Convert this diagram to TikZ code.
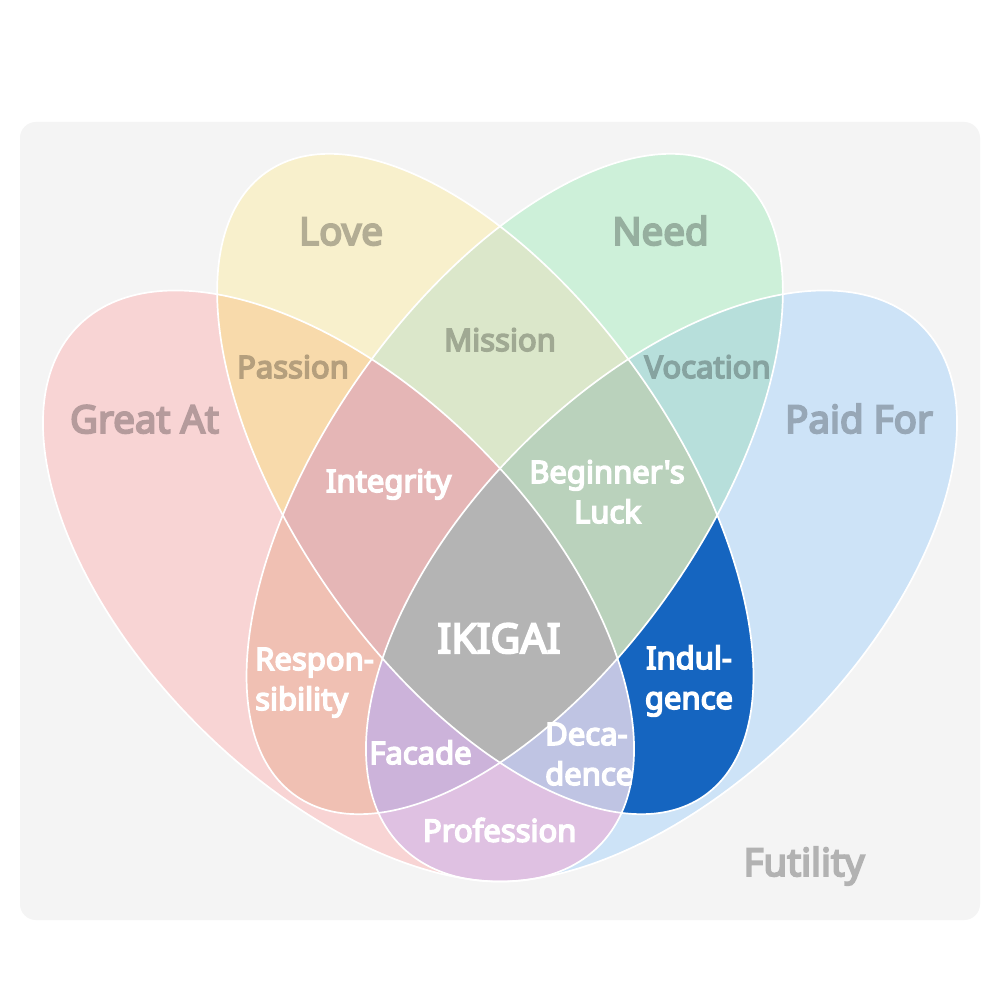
\documentclass[tikz,border=0pt]{standalone}
\usepackage{fontspec}
\newfontfamily\lblfont{Noto Sans}[FakeBold=5]
\definecolor{bgC}{HTML}{F4F4F4}
\definecolor{gaC}{HTML}{F8D4D4}
\definecolor{loC}{HTML}{F8F0CC}
\definecolor{neC}{HTML}{CDF0D9}
\definecolor{pfC}{HTML}{CDE3F7}
\definecolor{passC}{HTML}{F8DAAB}
\definecolor{missC}{HTML}{DBE7CA}
\definecolor{vocC}{HTML}{B7DFDB}
\definecolor{profC}{HTML}{DFC1E2}
\definecolor{respC}{HTML}{F0C0B3}
\definecolor{indC}{HTML}{1565C0}
\definecolor{intC}{HTML}{E5B6B6}
\definecolor{begC}{HTML}{BAD2BC}
\definecolor{facC}{HTML}{CCB3DA}
\definecolor{decC}{HTML}{BFC4E3}
\definecolor{ikC}{HTML}{B4B4B4}
% label colours (region colour darkened)
\definecolor{loT}{HTML}{B3AD94}
\definecolor{neT}{HTML}{96AF9F}
\definecolor{gaT}{HTML}{B59B9C}
\definecolor{pfT}{HTML}{97A7B6}
\definecolor{futT}{HTML}{B2B2B2}
\definecolor{passT}{HTML}{B59F7D}
\definecolor{missT}{HTML}{A0A993}
\definecolor{vocT}{HTML}{86A3A0}
\newcommand\pGA[1]{\path[#1,shift={(338.5,586)},rotate=-45] (0,0) ellipse [x radius=368pt,y radius=198pt];}
\newcommand\pPF[1]{\path[#1,shift={(661.5,586)},rotate=45] (0,0) ellipse [x radius=368pt,y radius=198pt];}
\newcommand\pLO[1]{\path[#1,shift={(485.3,484)},rotate=-54.9] (0,0) ellipse [x radius=381pt,y radius=189pt];}
\newcommand\pNE[1]{\path[#1,shift={(514.7,484)},rotate=54.9] (0,0) ellipse [x radius=381pt,y radius=189pt];}
\tikzset{
  lab/.style={font=\lblfont\fontsize{31}{34}\selectfont, inner sep=0pt, anchor=base},
  biglab/.style={lab, font=\lblfont\fontsize{38.5}{40}\selectfont},
  ikilab/.style={lab, font=\lblfont\fontsize{41}{44}\selectfont},
  wht/.style={text=white},
  outline/.style={draw=white, line width=1.7pt}
}
\begin{document}
\begin{tikzpicture}[x=1pt,y=-1pt]
\useasboundingbox (0,0) rectangle (1000,1000);
\fill[white] (0,0) rectangle (1000,1000);
\fill[bgC, rounded corners=16pt] (20,122) rectangle (980,920);
% single sets
\pGA{fill=gaC}
\pPF{fill=pfC}
\pLO{fill=loC}
\pNE{fill=neC}
% pairs
\begin{scope}\pLO{clip}\pGA{fill=passC}\end{scope}
\begin{scope}\pLO{clip}\pNE{fill=missC}\end{scope}
\begin{scope}\pNE{clip}\pPF{fill=vocC}\end{scope}
\begin{scope}\pGA{clip}\pPF{fill=profC}\end{scope}
\begin{scope}\pNE{clip}\pGA{fill=respC}\end{scope}
\begin{scope}\pLO{clip}\pPF{fill=indC}\end{scope}
% triples
\begin{scope}\pLO{clip}\pNE{clip}\pGA{fill=intC}\end{scope}
\begin{scope}\pLO{clip}\pNE{clip}\pPF{fill=begC}\end{scope}
\begin{scope}\pNE{clip}\pGA{clip}\pPF{fill=facC}\end{scope}
\begin{scope}\pLO{clip}\pGA{clip}\pPF{fill=decC}\end{scope}
% all four
\begin{scope}\pLO{clip}\pNE{clip}\pGA{clip}\pPF{fill=ikC}\end{scope}
% outlines
\pGA{outline}
\pPF{outline}
\pLO{outline}
\pNE{outline}
% labels
\node[biglab,text=loT] (love) at (341,245) {Love};
\node[biglab,text=neT] (need) at (660.5,245) {Need};
\node[biglab,text=gaT] (great) at (144.5,433) {Great At};
\node[biglab,text=pfT] (paid) at (859,433) {Paid For};
\node[biglab,text=futT] (fut) at (804,876) {Futility};
\node[lab,text=passT] (pass) at (293,378) {Passion};
\node[lab,text=missT] (miss) at (500,351) {Mission};
\node[lab,text=vocT] (voc) at (707.5,378) {Vocation};
\node[lab,wht] (integ) at (388.6,492) {Integrity};
\node[lab,wht] (beg1) at (607,483) {Beginner's};
\node[lab,wht] (beg2) at (607.5,523) {Luck};
\node[ikilab,wht] (iki) at (499,653) {IKIGAI};
\node[lab,wht,anchor=base west] (resp1) at (255,670) {Respon-};
\node[lab,wht,anchor=base west] (resp2) at (255,710) {sibility};
\node[lab,wht] (ind1) at (689,669) {Indul-};
\node[lab,wht] (ind2) at (689,709) {gence};
\node[lab,wht] (fac) at (420.5,764) {Facade};
\node[lab,wht,anchor=base west] (dec1) at (545,745) {Deca-};
\node[lab,wht,anchor=base west] (dec2) at (545,785) {dence};
\node[lab,wht] (prof) at (499.7,841.7) {Profession};
\end{tikzpicture}
\end{document}
